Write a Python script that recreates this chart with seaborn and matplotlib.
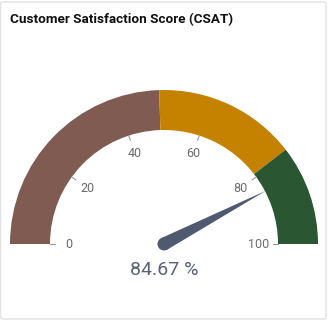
import numpy as np
import matplotlib
matplotlib.use("Agg")
import matplotlib.pyplot as plt
import seaborn as sns
from matplotlib.patches import Wedge, Polygon, Circle, FancyBboxPatch

# ---- data ----
title = "Customer Satisfaction Score (CSAT)"
band_starts = [0, 49, 79]
band_ends = [49, 79, 100]
band_colors = ["#7F5B51", "#C58200", "#2A5732"]
tick_values = [0, 20, 40, 60, 80, 100]
tick_labels = ["0", "20", "40", "60", "80", "100"]
value = 84.67
value_label = "84.67 %"

sns.set_theme(style="white")
plt.rcParams["font.family"] = ["Roboto", "DejaVu Sans"]

W, H = 328, 321
fig = plt.figure(figsize=(W / 100, H / 100), dpi=100)
ax = fig.add_axes([0, 0, 1, 1])
ax.set_xlim(0, W)
ax.set_ylim(0, H)
ax.set_aspect("equal")
ax.axis("off")

cx, cy = 164, H - 244
r_out, r_in = 154, 114

def ang(v):
    return 180.0 - v * 1.8

for a, b, c in zip(band_starts, band_ends, band_colors):
    ax.add_patch(Wedge((cx, cy), r_out, ang(b), ang(a), width=r_out - r_in,
                       facecolor=c, edgecolor="none"))

for v, lab in zip(tick_values, tick_labels):
    t = np.deg2rad(ang(v))
    ax.plot([cx + (r_in - 5) * np.cos(t), cx + r_in * np.cos(t)],
            [cy + (r_in - 5) * np.sin(t), cy + r_in * np.sin(t)],
            color="#9a9a9a", lw=0.8)
    ax.text(cx + 95 * np.cos(t), cy + 95 * np.sin(t), lab, ha="center", va="center",
            fontsize=9, color="#6b6b6b")

# needle
t = np.deg2rad(ang(value))
L, w = 115, 6.5
tip = (cx + L * np.cos(t), cy + L * np.sin(t))
px, py = -np.sin(t), np.cos(t)
ax.add_patch(Polygon([tip, (cx + w * px, cy + w * py), (cx - w * px, cy - w * py)],
                     closed=True, facecolor="#4F5A70", edgecolor="none"))
ax.add_patch(Circle((cx, cy), w, facecolor="#4F5A70", edgecolor="none"))

ax.text(cx, H - 270, value_label, ha="center", va="center", fontsize=14, color="#5A6274")

fig.text(9.5 / W, 1 - 20 / H, title, ha="left", va="center", fontsize=9.7,
         fontweight="bold", color="#111111")

fig.patches.append(FancyBboxPatch((0.5 / W, 2 / H), 325.5 / W, 317 / H,
                                  boxstyle="round,pad=0,rounding_size=0.006",
                                  transform=fig.transFigure, facecolor="none",
                                  edgecolor="#e2e2e2", lw=1))

fig.savefig("out.png", dpi=100)
